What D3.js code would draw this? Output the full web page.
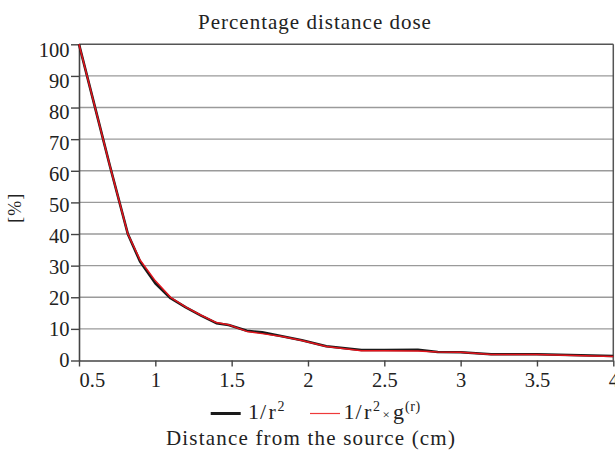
<!DOCTYPE html>
<html>
<head>
<meta charset="utf-8">
<script src="https://cdn.jsdelivr.net/npm/d3@7/dist/d3.min.js"></script>
<style>
  html, body { margin: 0; padding: 0; background: #fff; }
  svg { display: block; }
  text { font-family: "Liberation Serif", "Times New Roman", serif; fill: #222; }
</style>
</head>
<body>
<svg id="chart" width="615" height="453"></svg>
<script>
// ---- data ----
const distance = [0.5, 0.6, 0.7, 0.82, 0.9, 1.0, 1.1, 1.2, 1.3, 1.4, 1.48, 1.6, 1.7, 1.83, 1.96, 2.12, 2.35, 2.5, 2.72, 2.85, 3.0, 3.2, 3.5, 4.0];
const inverseSquare = [100, 81, 62, 40, 31.3, 24.4, 19.7, 16.8, 14.2, 11.8, 11.2, 9.4, 8.9, 7.7, 6.4, 4.5, 3.3, 3.3, 3.4, 2.7, 2.6, 2.0, 2.0, 1.4];
const inverseSquareG = [100, 81, 62, 40, 31.8, 25.2, 20.0, 16.9, 14.3, 12.0, 11.3, 9.2, 8.5, 7.6, 6.3, 4.4, 3.1, 3.1, 3.0, 2.7, 2.6, 1.9, 1.9, 1.3];
const xTicks = [0.5, 1, 1.5, 2, 2.5, 3, 3.5, 4];
const xTickLabels = ["0.5", "1", "1.5", "2", "2.5", "3", "3.5", "4"];
const yTicks = [0, 10, 20, 30, 40, 50, 60, 70, 80, 90, 100];
const title = "Percentage distance dose";
const xTitle = "Distance from the source (cm)";
const yTitle = "[%]";

// ---- layout ----
const svg = d3.select("#chart");
const x = d3.scaleLinear().domain([0.5, 4]).range([79, 613.3]);
const y = d3.scaleLinear().domain([0, 100]).range([360.5, 44.3]);

// grid lines
svg.append("g")
  .selectAll("line")
  .data(yTicks.filter(v => v > 0 && v < 100))
  .join("line")
  .attr("x1", x(0.5)).attr("x2", x(4))
  .attr("y1", d => y(d)).attr("y2", d => y(d))
  .attr("stroke", "#9a9a9a").attr("stroke-width", 1.4);

// frame top and right
svg.append("line")
  .attr("x1", x(0.5)).attr("x2", x(4)).attr("y1", y(100)).attr("y2", y(100))
  .attr("stroke", "#555").attr("stroke-width", 1.5);
svg.append("line")
  .attr("x1", x(4)).attr("x2", x(4)).attr("y1", y(100)).attr("y2", y(0))
  .attr("stroke", "#555").attr("stroke-width", 1.5);

// x axis
const xAxis = svg.append("g")
  .attr("transform", `translate(0,${y(0)})`)
  .call(d3.axisBottom(x).tickValues(xTicks).tickFormat((d, i) => xTickLabels[i]).tickSize(6).tickSizeOuter(0).tickPadding(6));
xAxis.select(".domain").attr("stroke", "#444").attr("stroke-width", 1.6);
xAxis.selectAll(".tick line").attr("stroke", "#444").attr("stroke-width", 1.4);
xAxis.selectAll(".tick text")
  .attr("font-size", 20.5).attr("font-family", "Liberation Serif").attr("fill", "#222")
  .attr("dy", null).attr("y", 26.5)
  .attr("text-anchor", (d, i) => i === 0 ? "start" : "middle");

// y axis
const yAxis = svg.append("g")
  .attr("transform", `translate(${x(0.5)},0)`)
  .call(d3.axisLeft(y).tickValues(yTicks).tickSize(8).tickSizeOuter(0).tickPadding(1.5));
yAxis.select(".domain").attr("stroke", "#444").attr("stroke-width", 1.6);
yAxis.selectAll(".tick line").attr("stroke", "#444").attr("stroke-width", 1.4);
yAxis.selectAll(".tick text")
  .attr("font-size", 20.5).attr("font-family", "Liberation Serif").attr("fill", "#222")
  .attr("dy", null).attr("y", d => 0.062 * d - 0.5 + 6.9);

// lines
const line = (vals) => d3.line().x((d, i) => x(distance[i])).y(d => y(d))(vals);
svg.append("path").attr("d", line(inverseSquare))
  .attr("fill", "none").attr("stroke", "#1a1a1a").attr("stroke-width", 2.6).attr("stroke-linejoin", "round");
svg.append("path").attr("d", line(inverseSquareG))
  .attr("fill", "none").attr("stroke", "#e3141c").attr("stroke-width", 1.5).attr("stroke-linejoin", "round");

// title
svg.append("text").attr("x", 315).attr("y", 29)
  .attr("text-anchor", "middle").attr("font-size", 21).attr("letter-spacing", 1)
  .text(title);

// x title
svg.append("text").attr("x", 311).attr("y", 445)
  .attr("text-anchor", "middle").attr("font-size", 21).attr("letter-spacing", 1.2)
  .text(xTitle);

// y title
svg.append("text").attr("transform", "translate(20.8,207.7) rotate(-90)")
  .attr("text-anchor", "middle").attr("font-size", 18).attr("letter-spacing", 1)
  .text(yTitle);

// legend
const leg = svg.append("g");
leg.append("line").attr("x1", 210.7).attr("x2", 240.7).attr("y1", 413.5).attr("y2", 413.5)
  .attr("stroke", "#1a1a1a").attr("stroke-width", 3);
const t1 = leg.append("text").attr("y", 419.3).attr("font-size", 22);
t1.append("tspan").attr("x", 248).text("1");
t1.append("tspan").attr("x", 260).text("/");
t1.append("tspan").attr("x", 268.5).text("r");
t1.append("tspan").attr("x", 277.5).attr("dy", -8.5).attr("font-size", 14).text("2");

leg.append("line").attr("x1", 310).attr("x2", 340).attr("y1", 413.5).attr("y2", 413.5)
  .attr("stroke", "#ee3a3a").attr("stroke-width", 1.2);
const t2 = leg.append("text").attr("y", 419.3).attr("font-size", 22);
t2.append("tspan").attr("x", 343.5).text("1");
t2.append("tspan").attr("x", 355.5).text("/");
t2.append("tspan").attr("x", 364).text("r");
t2.append("tspan").attr("x", 373).attr("dy", -8.5).attr("font-size", 14).text("2");
t2.append("tspan").attr("x", 382.5).attr("dy", 8.5).attr("font-size", 13).text("×");
t2.append("tspan").attr("x", 393).attr("font-size", 22).text("g");
t2.append("tspan").attr("x", 405).attr("dy", -8.5).attr("font-size", 14).attr("letter-spacing", 0.6).text("(r)");
</script>
</body>
</html>
